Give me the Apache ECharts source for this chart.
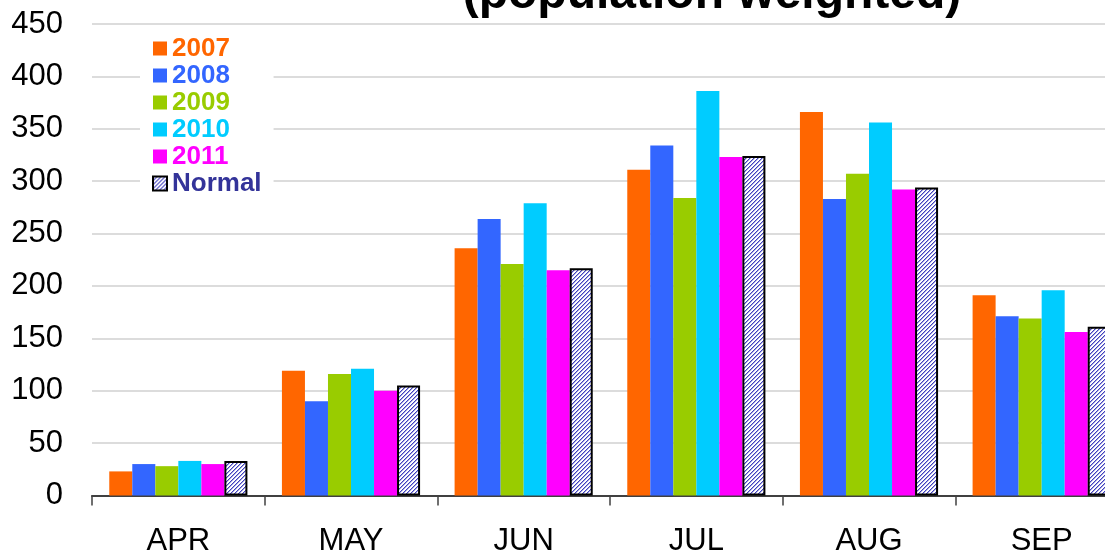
<!DOCTYPE html>
<html>
<head>
<meta charset="utf-8">
<script src="https://cdn.jsdelivr.net/npm/echarts@6/dist/echarts.min.js"></script>
<style>
html,body{margin:0;padding:0;background:#fff;overflow:hidden;width:1105px;height:554px;}
#chart{width:1140px;height:554px;}
</style>
</head>
<body>
<div id="chart"></div>
<script>
var months = ['APR', 'MAY', 'JUN', 'JUL', 'AUG', 'SEP'];
var seriesNames = ['2007', '2008', '2009', '2010', '2011', 'Normal'];
var v2007 = [23, 119, 236, 311, 366, 191];
var v2008 = [30, 90, 264, 334, 283, 171];
var v2009 = [28, 116, 221, 284, 307, 169];
var v2010 = [33, 121, 279, 386, 356, 196];
var v2011 = [30, 100, 215, 323, 292, 156];
var vNormal = [33, 105, 217, 324, 294, 161];
var titleText = '(population weighted)';

var colors = ['#FF6600', '#3366FF', '#99CC00', '#00CCFF', '#FF00FF'];
var normalTextColor = '#333399';
var FONT = '"Liberation Sans", Arial, Helvetica, sans-serif';

// hatch pattern for Normal: crisp "/" diagonal pixels
var pc = document.createElement('canvas');
pc.width = 4; pc.height = 4;
var pctx = pc.getContext('2d');
pctx.fillStyle = '#ffffff';
pctx.fillRect(0, 0, 4, 4);
pctx.fillStyle = '#4040c0';
for (var k = 0; k < 4; k++) { pctx.fillRect(3 - k, k, 1, 1); }
pctx.fillStyle = '#a8a8e0';
for (var k2 = 0; k2 < 4; k2++) { pctx.fillRect((4 - k2) % 4, k2, 1, 1); }
var hatch = { image: pc, repeat: 'repeat' };

var allValues = [v2007, v2008, v2009, v2010, v2011, vNormal];
var series = seriesNames.map(function (name, i) {
  return {
    name: name,
    type: 'bar',
    data: allValues[i],
    barGap: '0%',
    barCategoryGap: '20%',
    itemStyle: i < 5 ? { color: colors[i] } : { color: hatch, borderColor: '#000', borderWidth: 2 },
    emphasis: { disabled: true },
    animation: false
  };
});

var legendData = seriesNames.map(function (name, i) {
  return {
    name: name,
    textStyle: { color: i < 5 ? colors[i] : normalTextColor }
  };
});

var chart = echarts.init(document.getElementById('chart'), null, { renderer: 'canvas' });
chart.setOption({
  animation: false,
  backgroundColor: '#ffffff',
  title: {
    text: titleText,
    left: 707,
    textAlign: 'center',
    top: -34,
    textStyle: { fontFamily: FONT, fontSize: 48, fontWeight: 'bold', color: '#000', lineHeight: 48 }
  },
  legend: {
    orient: 'vertical',
    left: 140,
    top: 30,
    padding: [5, 12, 5, 12],
    backgroundColor: '#ffffff',
    itemWidth: 14,
    itemHeight: 14,
    itemGap: 0,
    icon: 'rect',
    selectedMode: false,
    data: legendData,
    textStyle: { fontFamily: FONT, fontSize: 26, fontWeight: 'bold', lineHeight: 27, padding: [0, 0, 0, 0] }
  },
  grid: { left: 92, top: 24, right: 12, height: 471.5, containLabel: false, outerBoundsMode: 'none' },
  xAxis: {
    type: 'category',
    data: months,
    axisLine: { lineStyle: { color: '#404040', width: 2 } },
    axisTick: { show: true, length: 10, lineStyle: { color: '#404040', width: 1.5 } },
    axisLabel: { fontFamily: FONT, fontSize: 31, color: '#000', margin: 30 },
    splitLine: { show: false }
  },
  yAxis: {
    type: 'value',
    min: 0,
    max: 450,
    interval: 50,
    axisLine: { show: false },
    axisTick: { show: false },
    axisLabel: { fontFamily: FONT, fontSize: 31, color: '#000', margin: 29 },
    splitLine: { lineStyle: { color: '#d0d0d0', width: 1.5 } }
  },
  series: series
});
</script>
</body>
</html>
